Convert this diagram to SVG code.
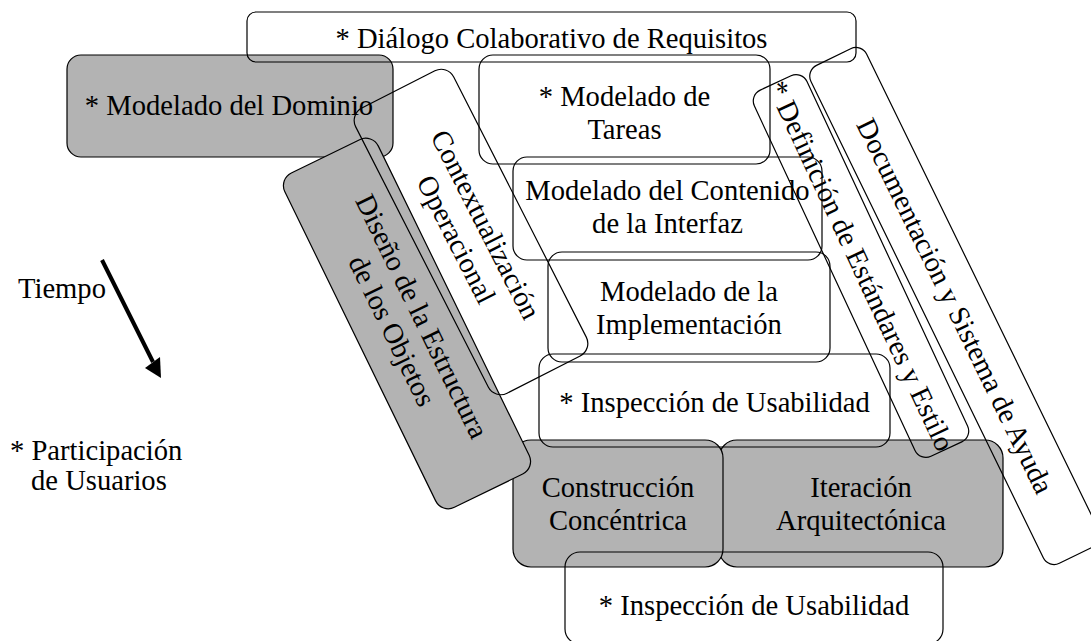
<svg xmlns="http://www.w3.org/2000/svg" width="1091" height="641" viewBox="0 0 1091 641">
<style>
.b{fill:none;stroke:#000;stroke-width:1.2}
.g{fill:#b3b3b3;stroke:#000;stroke-width:1.2}
text{font-family:"Liberation Serif","Times New Roman",serif;font-size:28.6px;fill:#000}
.c{text-anchor:middle}
</style>
<rect width="1091" height="641" fill="#fff"/>
<g id="iteracion">
<rect class="g" x="719" y="440" width="284" height="127" rx="18"/>
<text class="c" x="861" y="497">Iteración</text>
<text class="c" x="861" y="530">Arquitectónica</text>
</g>
<g id="construccion">
<rect class="g" x="513" y="440" width="210" height="127" rx="18"/>
<text class="c" x="618" y="497">Construcción</text>
<text class="c" x="618" y="530">Concéntrica</text>
</g>
<g id="dominio">
<rect class="g" x="67" y="55" width="326" height="102" rx="14"/>
<text class="c" x="229" y="115">* Modelado del Dominio</text>
</g>
<g id="diseno" transform="translate(407,323.5) rotate(64)">
<rect class="g" x="-186" y="-52" width="372" height="104" rx="14"/>
<text class="c" x="0" y="-7">Diseño de la Estructura</text>
<text class="c" x="0" y="26">de los Objetos</text>
</g>
<g id="dialogo">
<rect class="b" x="247" y="12" width="609" height="50" rx="9"/>
<text class="c" x="551.5" y="48">* Diálogo Colaborativo de Requisitos</text>
</g>
<g id="tareas">
<rect class="b" x="479" y="55" width="291" height="109" rx="14"/>
<text class="c" x="624.5" y="106">* Modelado de</text>
<text class="c" x="624.5" y="139">Tareas</text>
</g>
<g id="contenido">
<rect class="b" x="513" y="157" width="309" height="103" rx="14"/>
<text class="c" x="667.5" y="200">Modelado del Contenido</text>
<text class="c" x="667.5" y="233">de la Interfaz</text>
</g>
<g id="implementacion">
<rect class="b" x="548" y="252" width="282" height="110" rx="14"/>
<text class="c" x="689" y="301">Modelado de la</text>
<text class="c" x="689" y="334">Implementación</text>
</g>
<g id="inspeccion1">
<rect class="b" x="539" y="354" width="351" height="93" rx="14"/>
<text class="c" x="714.5" y="412">* Inspección de Usabilidad</text>
</g>
<g id="inspeccion2">
<rect class="b" x="565" y="552" width="378" height="92" rx="15"/>
<text class="c" x="754" y="615">* Inspección de Usabilidad</text>
</g>
<g id="contextualizacion" transform="translate(471,232) rotate(63)">
<rect class="b" x="-160" y="-55" width="320" height="110" rx="14"/>
<text class="c" x="0" y="-7">Contextualización</text>
<text class="c" x="0" y="26">Operacional</text>
</g>
<g id="definicion" transform="translate(861,266) rotate(65)">
<rect class="b" x="-202" y="-29" width="404" height="58" rx="12"/>
<text class="c" x="0" y="9.5">* Definición de Estándares y Estilo</text>
</g>
<g id="documentacion" transform="translate(955,306) rotate(64)">
<rect class="b" x="-277" y="-31" width="554" height="62" rx="12"/>
<text class="c" x="0" y="9.5">Documentación y Sistema de Ayuda</text>
</g>
<g id="tiempo">
<text x="18" y="298">Tiempo</text>
</g>
<g id="participacion">
<text x="10" y="460">* Participación</text>
<text x="31" y="490">de Usuarios</text>
</g>
<g id="connectors">
<line x1="102" y1="260" x2="153" y2="362" stroke="#000" stroke-width="4"/>
<polygon points="145,368 160,357 161,378" fill="#000"/>
</g>
</svg>
